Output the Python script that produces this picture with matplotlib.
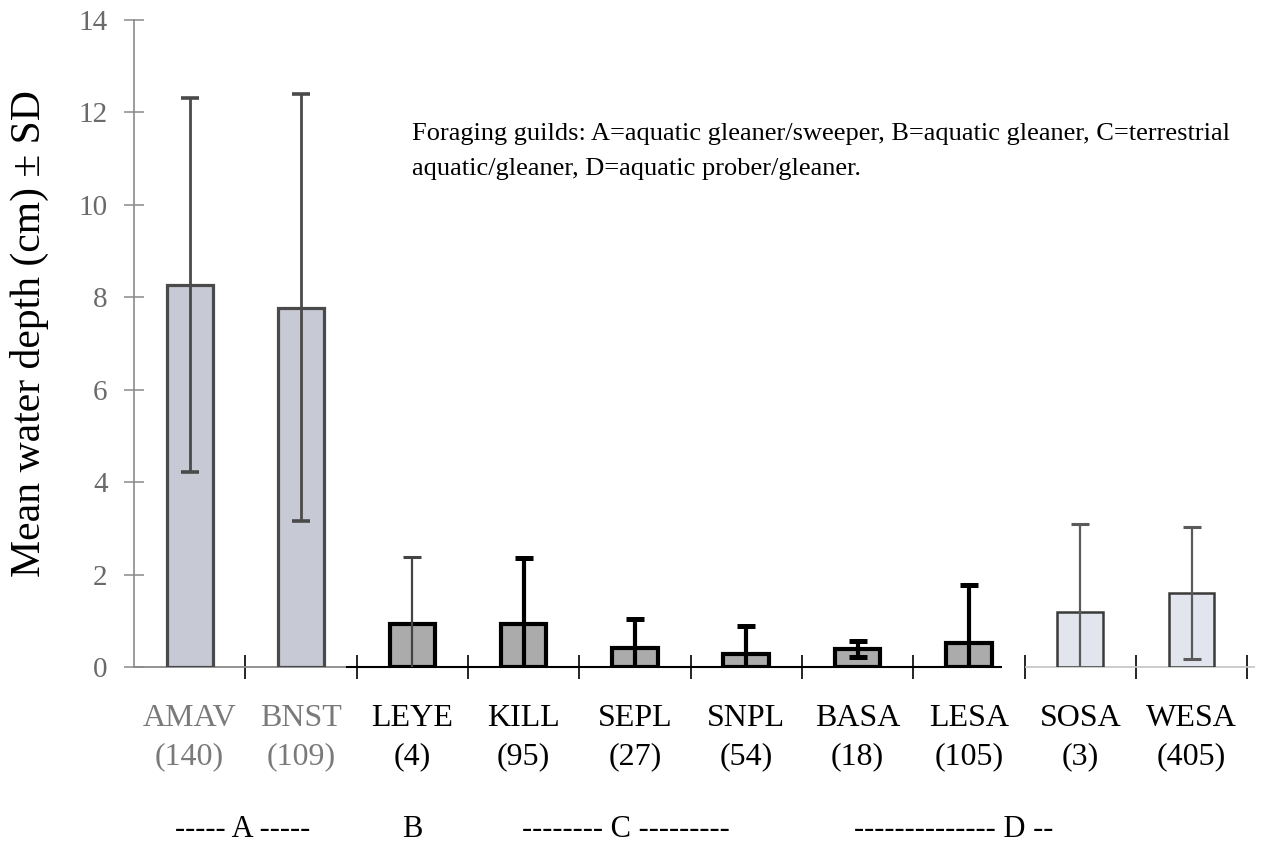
import numpy as np
import matplotlib
matplotlib.use('Agg')
import matplotlib.pyplot as plt
import matplotlib.transforms as mtransforms

plt.rcParams['font.family'] = ['Liberation Serif', 'DejaVu Serif']

# species codes, sample sizes and mean water depth (cm) with SD
species = ['AMAV', 'BNST', 'LEYE', 'KILL', 'SEPL', 'SNPL', 'BASA', 'LESA', 'SOSA', 'WESA']
n_obs = [140, 109, 4, 95, 27, 54, 18, 105, 3, 405]
mean_depth = [8.27, 7.77, 0.93, 0.93, 0.41, 0.28, 0.39, 0.52, 1.2, 1.6]
sd_depth = [4.05, 4.62, 1.45, 1.43, 0.63, 0.61, 0.17, 1.25, 1.9, 1.42]

# three panels were pasted together, each with its own look
panel = ['a', 'a', 'c', 'c', 'c', 'c', 'c', 'c', 'd', 'd']
face = {'a': '#c7cad4', 'c': '#ababab', 'd': '#e2e5ed'}
edge = {'a': '#4a4a4a', 'c': '#000000', 'd': '#3a3a3a'}
edge_lw = {'a': 2.3, 'c': 3.0, 'd': 1.8}
err_col = {'a': '#4a4a4a', 'c': '#000000', 'd': '#5a5a5a'}
err_lw = {'a': 2.0, 'c': 3.0, 'd': 1.6}
lab_col = {'a': '#7a7a7a', 'c': '#000000', 'd': '#000000'}

fig = plt.figure(figsize=(12.62, 8.46), dpi=100)
ax = fig.add_axes([0.1062, 0.2116, 0.8883, 0.7648])

x = np.arange(len(species))
for i in x:
    p = panel[i]
    ax.bar(x[i], mean_depth[i], width=0.41, color=face[p], edgecolor=edge[p],
           linewidth=edge_lw[p], zorder=3)
    elw = 1.6 if species[i] == 'LEYE' else err_lw[p]
    ec = '#444444' if species[i] == 'LEYE' else err_col[p]
    ax.errorbar(x[i], mean_depth[i], yerr=sd_depth[i], fmt='none', ecolor=ec,
                elinewidth=elw, capsize=6.2, capthick=elw + 0.6, zorder=4)

ax.set_xlim(-0.5, 9.57)
ax.set_ylim(0, 14)
ax.set_yticks(np.arange(0, 15, 2))
for s in ['top', 'right', 'bottom']:
    ax.spines[s].set_visible(False)
ax.spines['left'].set_color('#8a8a8a')
ax.spines['left'].set_linewidth(1.2)
ax.tick_params(axis='y', direction='inout', length=14, width=1.1, color='#8a8a8a',
               labelcolor='#6a6a6a', labelsize=21, pad=12)

# baseline pieces from the three panels
ax.hlines(0, -0.5, 1.4, color='#8a8a8a', lw=1.3, clip_on=False, zorder=2)
ax.hlines(0, 1.4, 7.3, color='#000000', lw=1.5, clip_on=False, zorder=2)
ax.hlines(0, 7.5, 9.57, color='#c4c4c4', lw=1.2, clip_on=False, zorder=2)

ax.set_xticks(x, labels=[f'{s}\n({n})' for s, n in zip(species, n_obs)])
ax.tick_params(axis='x', which='major', length=0, pad=27, labelsize=23)
for lab, i in zip(ax.get_xticklabels(), x):
    lab.set_color(lab_col[panel[i]])
    lab.set_linespacing(1.4)

ax.set_xticks(x + 0.5, minor=True)
ax.tick_params(axis='x', which='minor', direction='inout', length=17, width=1.2)
for t, pos in zip(ax.xaxis.get_minor_ticks(), x + 0.5):
    if pos < 1:
        t.tick1line.set_color('#8a8a8a')
    elif pos < 7:
        t.tick1line.set_color('#000000')
    else:
        t.tick1line.set_color('#c4c4c4')

ax.set_ylabel('Mean water depth (cm) ± SD', fontsize=30)
ax.yaxis.set_label_coords(-0.076, 0.515)

ax.text(2.0, 11.16,
        'Foraging guilds: A=aquatic gleaner/sweeper, B=aquatic gleaner, C=terrestrial\n'
        'aquatic/gleaner, D=aquatic prober/gleaner.',
        fontsize=19, va='center', ha='left', linespacing=1.75)

# guild brackets under the species labels
trans = mtransforms.blended_transform_factory(ax.transData, fig.transFigure)
guild_y = 1 - 829 / 846
ax.text(0.48, guild_y, '----- A -----', transform=trans, ha='center', va='center', fontsize=22)
ax.text(2.0, guild_y, 'B', transform=trans, ha='center', va='center', fontsize=22)
ax.text(3.92, guild_y, '-------- C ---------', transform=trans, ha='center', va='center', fontsize=22)
ax.text(5.97, guild_y, '-------------- D --', transform=trans, ha='left', va='center', fontsize=22)

fig.savefig('out.png', dpi=100)
